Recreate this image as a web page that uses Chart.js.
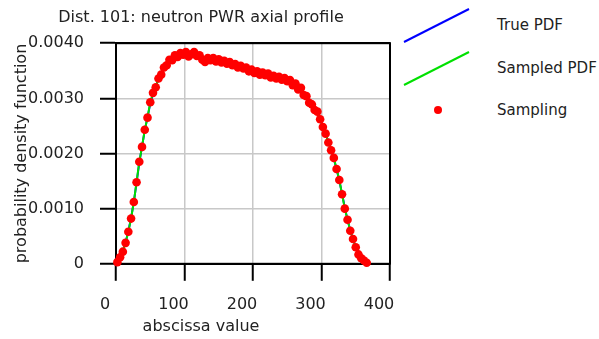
<!DOCTYPE html>
<html>
<head>
<meta charset="utf-8">
<script src="https://cdn.jsdelivr.net/npm/chart.js@4.4.0/dist/chart.umd.min.js"></script>
<style>
  body { margin: 0; background: #fff; width: 599px; height: 339px; overflow: hidden; position: relative; font-family: "DejaVu Sans", sans-serif; }
  #chart { position: absolute; left: 0; top: 0; }
  #legend { position: absolute; left: 400px; top: 0; width: 199px; height: 339px; }
  .item { position: absolute; left: 0; width: 199px; height: 42px; }
  .item svg { position: absolute; left: 0; top: 0; }
  .item span { position: absolute; left: 97px; top: 12px; font-size: 15px; line-height: 19px; color: #222; white-space: nowrap; }
</style>
</head>
<body>
<canvas id="chart" width="400" height="339"></canvas>
<div id="legend"></div>
<script>
// abscissa of the sampled points
const xValues = [2, 6, 10, 14, 18, 22, 26, 30, 34, 38, 42, 46, 50, 54, 58, 62, 66, 70, 74, 78,
  82, 86, 90, 94, 98, 102, 106, 110, 114, 118, 122, 126, 130, 134, 138, 142, 146, 150, 154, 158,
  162, 166, 170, 174, 178, 182, 186, 190, 194, 198, 202, 206, 210, 214, 218, 222, 226, 230, 234, 238,
  242, 246, 250, 254, 258, 262, 266, 270, 274, 278, 282, 286, 290, 294, 298, 302, 306, 310, 314, 318,
  322, 326, 330, 334, 338, 342, 346, 350, 354, 358, 362, 366];

const truePdf = [0.00003, 0.00012, 0.00023, 0.00039, 0.00059, 0.00083, 0.00112, 0.00147, 0.00183, 0.00213,
  0.00242, 0.00266, 0.00290, 0.00308, 0.00322, 0.00334, 0.00345, 0.00354, 0.00361, 0.00367,
  0.00372, 0.00376, 0.00378, 0.00380, 0.00380, 0.00380, 0.00379, 0.00378, 0.00377, 0.00376,
  0.00375, 0.00373, 0.00372, 0.00371, 0.00370, 0.00369, 0.00368, 0.00367, 0.00366, 0.00365,
  0.00364, 0.00363, 0.00362, 0.00360, 0.00358, 0.00357, 0.00355, 0.00353, 0.00351, 0.00349,
  0.00348, 0.00346, 0.00345, 0.00344, 0.00343, 0.00342, 0.00340, 0.00339, 0.00338, 0.00337,
  0.00336, 0.00334, 0.00332, 0.00330, 0.00326, 0.00322, 0.00318, 0.00314, 0.00308, 0.00302,
  0.00295, 0.00288, 0.00280, 0.00272, 0.00262, 0.00249, 0.00236, 0.00221, 0.00206, 0.00190,
  0.00172, 0.00151, 0.00127, 0.00102, 0.00080, 0.00061, 0.00045, 0.00030, 0.00018, 0.00010,
  0.00005, 0.00002];

const sampledPdf = [0.00003, 0.00012, 0.00022, 0.00038, 0.00058, 0.00082, 0.00112, 0.00148, 0.00185, 0.00212,
  0.00243, 0.00265, 0.00293, 0.00310, 0.00320, 0.00336, 0.00343, 0.00356, 0.00360, 0.00370,
  0.00369, 0.00378, 0.00375, 0.00382, 0.00379, 0.00384, 0.00376, 0.00380, 0.00384, 0.00377,
  0.00378, 0.00370, 0.00366, 0.00373, 0.00369, 0.00373, 0.00367, 0.00371, 0.00365, 0.00368,
  0.00363, 0.00366, 0.00360, 0.00362, 0.00356, 0.00359, 0.00354, 0.00356, 0.00349, 0.00352,
  0.00346, 0.00349, 0.00343, 0.00347, 0.00342, 0.00345, 0.00338, 0.00341, 0.00336, 0.00339,
  0.00334, 0.00337, 0.00331, 0.00333, 0.00324, 0.00327, 0.00316, 0.00319, 0.00306, 0.00304,
  0.00292, 0.00289, 0.00279, 0.00276, 0.00262, 0.00248, 0.00236, 0.00220, 0.00206, 0.00192,
  0.00172, 0.00152, 0.00126, 0.00100, 0.00080, 0.00060, 0.00045, 0.00030, 0.00017, 0.00010,
  0.00006, 0.00002];

const xTicks = [0, 100, 200, 300, 400];
const yTicks = [0, 0.001, 0.002, 0.003, 0.004];

const toPoints = arr => xValues.map((x, i) => ({ x: x, y: arr[i] }));
const font = { family: '"DejaVu Sans", sans-serif', size: 16, weight: 'normal' };
const textColor = '#222';

// black frame round the plot area (top and right sides too)
const frame = {
  id: 'frame',
  beforeDatasetsDraw(chart) {
    const { ctx, chartArea: a } = chart;
    ctx.save();
    ctx.strokeStyle = '#000';
    ctx.lineWidth = 2;
    ctx.strokeRect(a.left, a.top, a.right - a.left, a.bottom - a.top);
    ctx.restore();
  }
};

const chart = new Chart(document.getElementById('chart'), {
  type: 'scatter',
  data: {
    datasets: [
      { label: 'True PDF', data: toPoints(truePdf), showLine: true, borderColor: '#0000ff', borderWidth: 2, pointRadius: 0, order: 3 },
      { label: 'Sampled PDF', data: toPoints(sampledPdf), showLine: true, borderColor: '#00e000', borderWidth: 2, pointRadius: 0, order: 2 },
      { label: 'Sampling', data: toPoints(sampledPdf), showLine: false, backgroundColor: '#ff0000', borderWidth: 0, pointRadius: 4.3, order: 1, clip: false }
    ]
  },
  options: {
    responsive: false,
    animation: false,
    devicePixelRatio: 1,
    layout: { padding: { left: 12, right: 10, top: 0, bottom: 0 } },
    plugins: {
      legend: { display: false },
      tooltip: { enabled: false },
      title: {
        display: true,
        text: 'Dist. 101: neutron PWR axial profile',
        font: font, color: textColor,
        padding: { top: 8, bottom: 16 }
      },
      subtitle: {
        display: true,
        position: 'bottom',
        text: 'abscissa value',
        font: font, color: textColor,
        padding: { top: 3, bottom: 3 }
      }
    },
    scales: {
      x: {
        type: 'linear', min: 0, max: 400,
        afterBuildTicks: s => { s.ticks = xTicks.map(v => ({ value: v })); },
        afterFit: s => { s.height = 50; s.paddingLeft = 0; s.paddingRight = 0; },
        ticks: { font: font, color: textColor, padding: 14, labelOffset: -11, maxRotation: 0 },
        grid: {
          color: c => (c.tick && c.tick.value === 400 ? '#000' : '#c8c8c8'),
          lineWidth: 1.5, tickColor: '#000', tickLength: 17, tickWidth: 2
        },
        border: { color: '#000', width: 2 }
      },
      y: {
        type: 'linear', min: 0, max: 0.004,
        afterBuildTicks: s => { s.ticks = yTicks.map(v => ({ value: v })); },
        afterFit: s => { s.width = 104; },
        ticks: {
          font: font, color: textColor, padding: 16,
          callback: v => (v === 0 ? '0' : v.toFixed(4))
        },
        grid: {
          color: c => (c.tick && c.tick.value === 0.004 ? '#000' : '#c8c8c8'),
          lineWidth: 1.5, tickColor: '#000', tickLength: 16, tickWidth: 2
        },
        border: { color: '#000', width: 2 },
        title: {
          display: true, text: 'probability density function',
          font: font, color: textColor, padding: { top: 0, bottom: 0 }
        }
      }
    }
  },
  plugins: [frame]
});

// legend drawn beside the canvas: slanted line for curves, dot for points
const legend = document.getElementById('legend');
chart.data.datasets.forEach((ds, i) => {
  const item = document.createElement('div');
  item.className = 'item';
  item.style.top = (4 + i * 42.5) + 'px';
  const mark = ds.showLine
    ? '<line x1="4" y1="38" x2="69" y2="5" stroke="' + ds.borderColor + '" stroke-width="2"/>'
    : '<circle cx="38" cy="21" r="4" fill="' + ds.backgroundColor + '"/>';
  item.innerHTML = '<svg width="80" height="42">' + mark + '</svg><span>' + ds.label + '</span>';
  legend.appendChild(item);
});
</script>
</body>
</html>
